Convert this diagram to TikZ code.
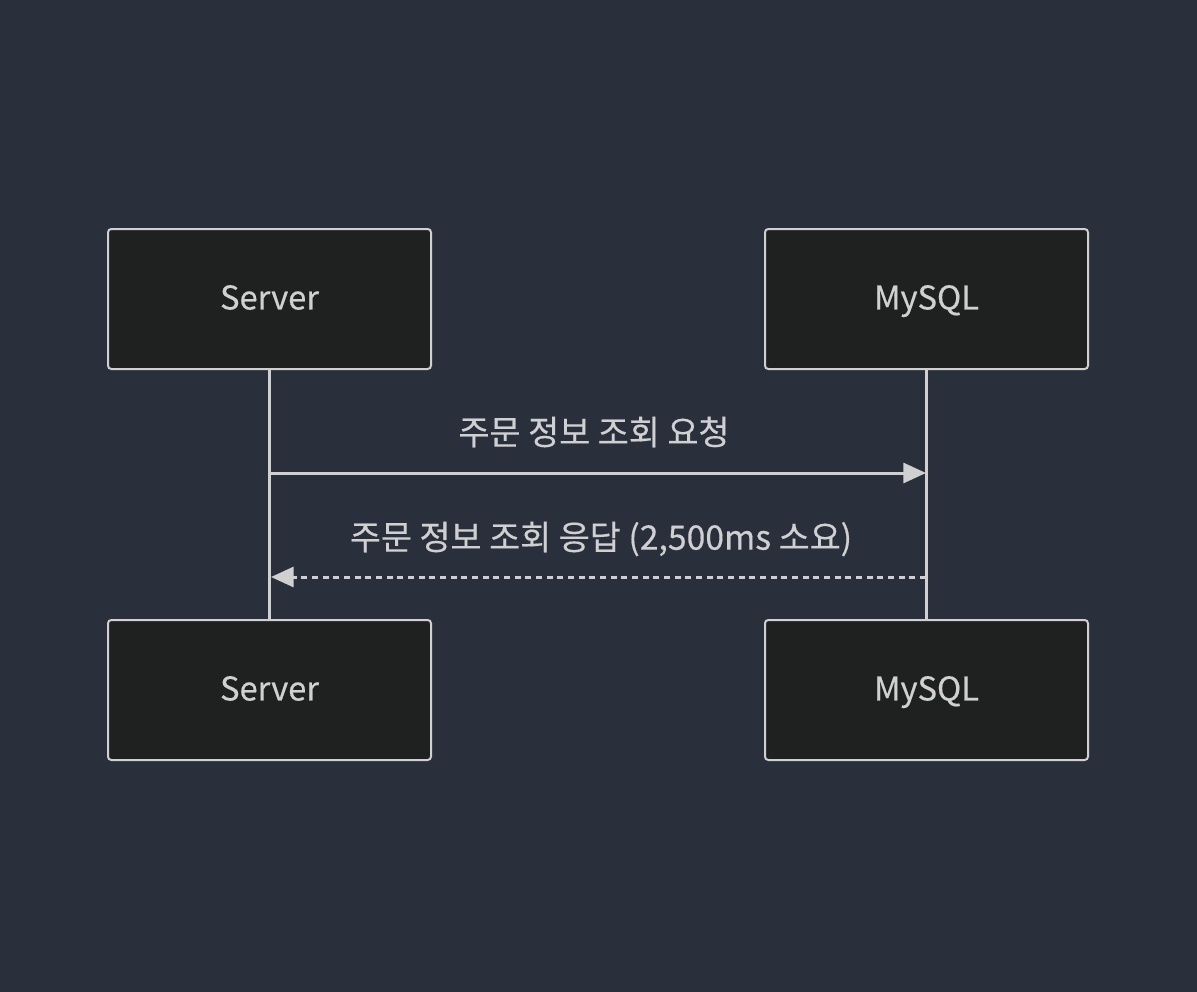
\documentclass[tikz,border=0pt]{standalone}
\usepackage{fontspec}
\setmainfont{Noto Sans CJK KR}[FakeBold=0.4]
\usetikzlibrary{arrows.meta}
\definecolor{bg}{RGB}{42,47,60}
\definecolor{boxfill}{RGB}{31,32,32}
\definecolor{fg}{RGB}{208,208,208}
\begin{document}
\begin{tikzpicture}[x=0.75pt,y=-0.75pt,
  actor/.style={draw=fg,fill=boxfill,line width=1.5pt,rounded corners=2.5pt,
    minimum width=323*0.75pt,minimum height=140*0.75pt,inner sep=0pt,
    text height=1.57em,text depth=0pt,
    text=fg,font=\fontsize{24.5}{28}\selectfont},
  life/.style={draw=fg,line width=2.3pt},
  msg/.style={draw=fg,line width=2.25pt,-{Triangle[length=17pt,width=15pt]}},
  lbl/.style={text=fg,font=\fontsize{25.3}{28}\selectfont,inner sep=0pt,
    text height=1.45em,text depth=0pt}]
\fill[bg] (0,0) rectangle (1197,992);
\useasboundingbox (0,0) rectangle (1197,992);
\node[actor] (sTop) at (269.5,299) {Server};
\node[actor] (mTop) at (926.5,299) {MySQL};
\node[actor] (sBot) at (269.5,690) {Server};
\node[actor] (mBot) at (926.5,690) {MySQL};
\draw[life] (sTop.south) -- (sBot.north);
\draw[life] (mTop.south) -- (mBot.north);
\coordinate (r1s) at (271,473);
\coordinate (r1e) at (926,473);
\coordinate (r2s) at (926,577);
\coordinate (r2e) at (271,577);
\draw[msg] (r1s) -- (r1e);
\draw[msg,dash pattern=on 4.5pt off 3.5pt] (r2s) -- (r2e);
\node[lbl] (l1) at (594,435) {주문 정보 조회 요청};
\node[lbl] (l2) at (601,540) {주문 정보 조회 응답 (2,500ms 소요)};
\end{tikzpicture}
\end{document}
